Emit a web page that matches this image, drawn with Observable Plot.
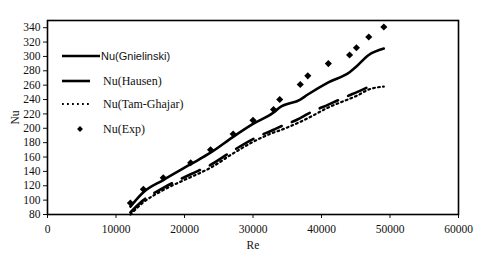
<!DOCTYPE html>
<html>
<head>
<meta charset="utf-8">
<script src="https://cdn.jsdelivr.net/npm/d3@7"></script>
<script src="https://cdn.jsdelivr.net/npm/@observablehq/plot@0.6"></script>
<style>
  body { margin: 0; background: #fff; }
  #wrap { position: relative; width: 480px; height: 258px; }
  #legend { position: absolute; left: 0; top: 0; pointer-events: none; }
</style>
</head>
<body>
<div id="wrap"></div>
<script>
// ---- data ----
const re = [12100, 14000, 16900, 20900, 23800, 27100, 30000, 33000, 33900, 36900, 38000, 41000, 44100, 45100, 46900, 49100];
const nuExp = [96, 115, 131, 152, 170, 192, 211, 226, 240, 261, 273, 290, 302, 312, 327, 341];
const nuGnielinski = [91, 111, 128, 150, 166, 188, 206, 222, 229, 240, 247, 264, 278, 286, 302, 311];
const reHausen = [12100, 14000, 16900, 20900, 23800, 27100, 30000, 33000, 33900, 36900, 38000, 41000, 44100, 45100, 46900, 47600];
const nuHausen = [83, 100, 117, 136, 149, 169, 185, 198, 202, 214, 220, 233, 246, 250, 258, 262];
const nuTamGhajar = [80, 97, 114, 132, 145, 165, 181, 194, 197, 209, 214, 229, 241, 245, 254, 258];
const xTicks = [0, 10000, 20000, 30000, 40000, 50000, 60000];
const yTicks = [80, 100, 120, 140, 160, 180, 200, 220, 240, 260, 280, 300, 320, 340];
const seriesNames = ["Nu(Gnielinski)", "Nu(Hausen)", "Nu(Tam-Ghajar)", "Nu(Exp)"];

const gn = re.map((x, i) => ({x, y: nuGnielinski[i]}));
const ha = reHausen.map((x, i) => ({x, y: nuHausen[i]}));
const tg = re.map((x, i) => ({x, y: nuTamGhajar[i]}));
const ex = re.map((x, i) => ({x, y: nuExp[i]}));

const chart = Plot.plot({
  width: 480,
  height: 258,
  marginLeft: 47,
  marginRight: 22,
  marginTop: 20,
  marginBottom: 44,
  style: {fontFamily: "'Liberation Serif', serif", fontSize: "11.5px", color: "#111", background: "white"},
  x: {domain: [0, 60000]},
  y: {domain: [80, 350]},
  marks: [
    Plot.axisY(yTicks, {tickSize: 4, tickPadding: 3, tickFormat: d3.format("d"), label: "Nu", labelAnchor: "center", labelArrow: "none", labelOffset: 37}),
    Plot.axisX(xTicks, {tickSize: 4, tickPadding: 6, tickFormat: d3.format("d"), label: "Re", labelAnchor: "center", labelArrow: "none", labelOffset: 34}),
    Plot.line(tg, {x: "x", y: "y", stroke: "black", strokeWidth: 2.2, strokeDasharray: "1.8,3.2", curve: "monotone-x"}),
    Plot.line(ha, {x: "x", y: "y", stroke: "black", strokeWidth: 2.6, strokeDasharray: "20,11", curve: "monotone-x"}),
    Plot.line(gn, {x: "x", y: "y", stroke: "black", strokeWidth: 2.6, curve: "monotone-x"}),
    Plot.dot(ex, {x: "x", y: "y", symbol: "diamond2", r: 3.2, fill: "black", stroke: "none"}),
    Plot.frame({stroke: "black", strokeWidth: 1.6})
  ]
});
document.getElementById("wrap").appendChild(chart);

// ---- legend overlay ----
const lg = d3.select("#wrap").append("svg")
  .attr("id", "legend").attr("width", 480).attr("height", 258);
const rows = [56, 81, 104, 129];
lg.append("line").attr("x1", 62).attr("x2", 100).attr("y1", rows[0]).attr("y2", rows[0])
  .attr("stroke", "black").attr("stroke-width", 2.6);
lg.append("line").attr("x1", 62).attr("x2", 90).attr("y1", rows[1]).attr("y2", rows[1])
  .attr("stroke", "black").attr("stroke-width", 2.6);
lg.append("line").attr("x1", 62).attr("x2", 91).attr("y1", rows[2]).attr("y2", rows[2])
  .attr("stroke", "black").attr("stroke-width", 2.2).attr("stroke-dasharray", "1.8,3.2");
lg.append("path").attr("d", d3.symbol(d3.symbolDiamond2, 22)()).attr("transform", `translate(80,${rows[3]})`).attr("fill", "black");
seriesNames.forEach((name, i) => {
  lg.append("text").attr("x", i === 0 ? 101 : 103).attr("y", rows[i]).attr("dy", "0.35em")
    .attr("font-family", i === 0 ? "'Liberation Sans', sans-serif" : "'Liberation Serif', serif")
    .attr("font-size", i === 0 ? 11 : 12)
    .attr("fill", "#111")
    .text(name);
});
</script>
</body>
</html>
